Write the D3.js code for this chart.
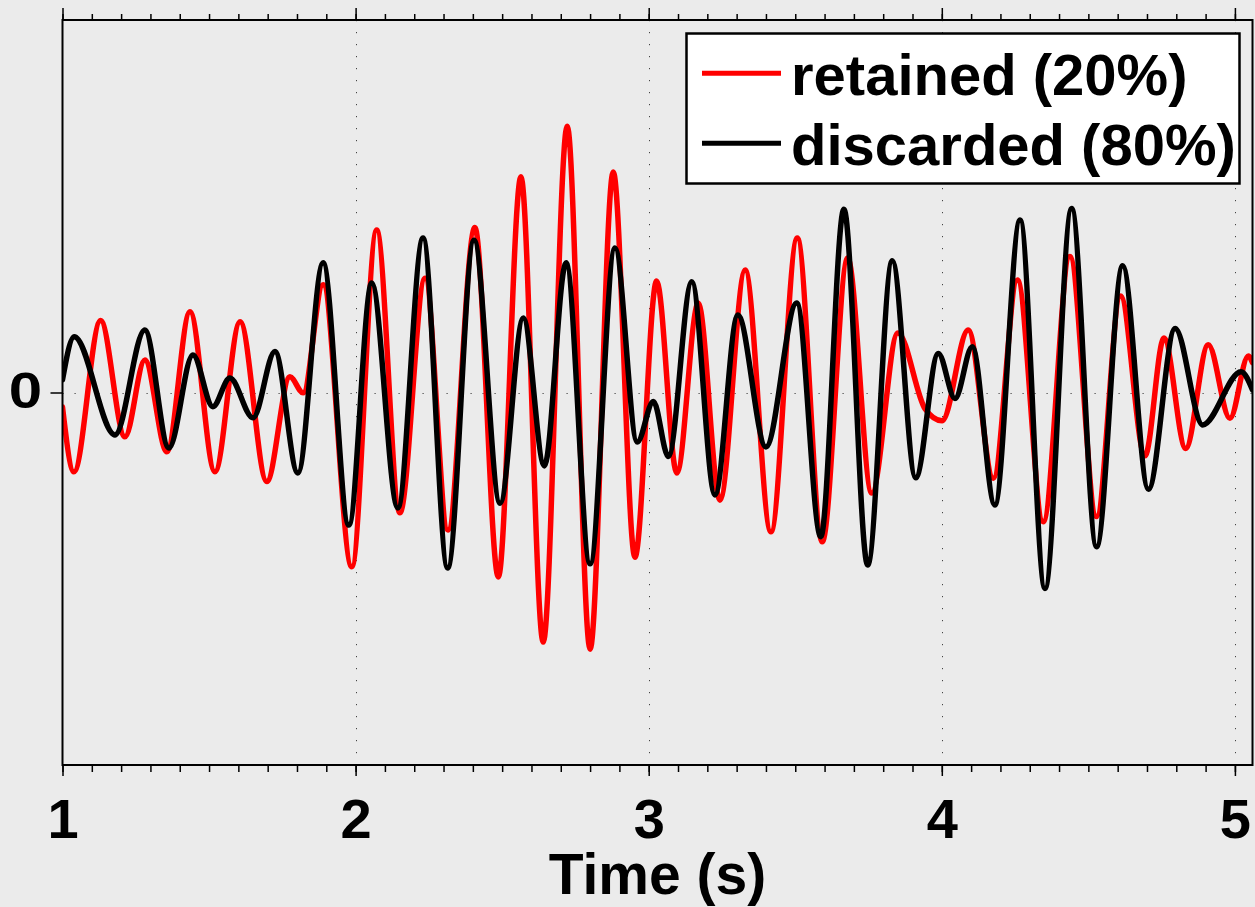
<!DOCTYPE html>
<html>
<head>
<meta charset="utf-8">
<script src="https://cdn.jsdelivr.net/npm/d3@7/dist/d3.min.js"></script>
<style>
  html, body { margin: 0; padding: 0; background: #ebebeb; }
  svg { display: block; }
  text { font-family: "Liberation Sans", Arial, Helvetica, sans-serif; font-weight: bold; fill: #000; }
</style>
</head>
<body>
<svg id="chart" width="1255" height="907"></svg>
<script>
// ---- data ----
const xDomain = [1, 5.06];
const yDomain = [-1, 1];
const xTickValues = [1, 2, 3, 4, 5];
const xTickLabels = ["1", "2", "3", "4", "5"];
const yTickValues = [0];
const yTickLabels = ["0"];
const seriesNames = ["retained (20%)", "discarded (80%)"];
const seriesColors = ["#ff0000", "#000000"];

const redT = [1.000,1.039,1.130,1.213,1.281,1.356,1.435,1.520,1.606,1.697,1.776,1.821,1.889,1.987,2.072,2.151,2.237,2.315,2.407,2.487,2.564,2.640,2.722,2.800,2.879,2.953,3.027,3.096,3.169,3.243,3.329,3.417,3.507,3.592,3.679,3.761,3.850,3.943,4.001,4.090,4.176,4.258,4.346,4.437,4.528,4.610,4.693,4.758,4.832,4.909,4.983,5.046,5.060];
const redV = [-0.039,-0.213,0.193,-0.119,0.087,-0.159,0.217,-0.213,0.190,-0.239,0.042,-0.001,0.289,-0.468,0.436,-0.323,0.307,-0.369,0.443,-0.495,0.579,-0.670,0.715,-0.689,0.592,-0.442,0.299,-0.216,0.240,-0.289,0.329,-0.374,0.415,-0.401,0.361,-0.270,0.160,-0.044,-0.076,0.168,-0.230,0.302,-0.347,0.365,-0.333,0.259,-0.170,0.146,-0.150,0.128,-0.069,0.098,0.080];

const blackT = [1.000,1.040,1.179,1.281,1.363,1.445,1.513,1.571,1.650,1.725,1.803,1.889,1.977,2.055,2.144,2.230,2.314,2.404,2.493,2.572,2.644,2.718,2.800,2.885,2.961,3.016,3.067,3.147,3.226,3.304,3.400,3.505,3.587,3.666,3.747,3.831,3.911,3.988,4.045,4.104,4.181,4.267,4.352,4.443,4.528,4.617,4.705,4.796,4.890,5.021,5.060];
const blackV = [0.034,0.150,-0.114,0.168,-0.149,0.101,-0.038,0.039,-0.068,0.110,-0.216,0.348,-0.356,0.294,-0.310,0.415,-0.471,0.409,-0.297,0.200,-0.197,0.348,-0.460,0.388,-0.133,-0.024,-0.172,0.297,-0.275,0.208,-0.146,0.240,-0.387,0.492,-0.463,0.354,-0.229,0.105,-0.016,0.123,-0.302,0.463,-0.526,0.494,-0.414,0.340,-0.260,0.172,-0.087,0.056,0.007];

// ---- layout ----
const L = 62.5, R = 1252.5, T = 20, B = 765;
const svg = d3.select("#chart");
svg.append("rect").attr("width", 1255).attr("height", 907).attr("fill", "#ebebeb");

const x = d3.scaleLinear().domain(xDomain).range([L, R]);
const y = d3.scaleLinear().domain(yDomain).range([B, T]);

// grid (dotted)
const grid = svg.append("g").attr("stroke", "#444").attr("stroke-width", 1).attr("stroke-dasharray", "1.2,10.8");
grid.selectAll("line.v").data(xTickValues.filter(d => d > xDomain[0])).join("line")
  .attr("x1", d => Math.round(x(d)) + 0.5).attr("x2", d => Math.round(x(d)) + 0.5)
  .attr("y1", T).attr("y2", B);
grid.selectAll("line.h").data(yTickValues).join("line")
  .attr("x1", L).attr("x2", R)
  .attr("y1", d => Math.round(y(d)) + 0.5).attr("y2", d => Math.round(y(d)) + 0.5);

// clip
svg.append("clipPath").attr("id", "clip").append("rect")
  .attr("x", L).attr("y", T).attr("width", R - L).attr("height", B - T);

const line = d3.line().x(d => x(d[0])).y(d => y(d[1])).curve(d3.curveMonotoneX);
const series = [d3.zip(redT, redV), d3.zip(blackT, blackV)];
const plot = svg.append("g").attr("clip-path", "url(#clip)");
series.forEach((s, i) => {
  plot.append("path").datum(s)
    .attr("fill", "none").attr("stroke", seriesColors[i]).attr("stroke-width", 5.5)
    .attr("stroke-linejoin", "round").attr("stroke-linecap", "round")
    .attr("d", line);
});

// axes
const minorTicks = d3.range(10, 51).map(d => d / 10);
function styleAxis(g) {
  g.select(".domain").remove();
  g.selectAll(".tick line").attr("stroke", "#000").attr("stroke-width", 1.5);
}
svg.append("g").attr("transform", `translate(0,${B})`)
  .call(d3.axisBottom(x).tickValues(minorTicks).tickSize(7).tickFormat(""))
  .call(styleAxis);
svg.append("g").attr("transform", `translate(0,${B})`)
  .call(d3.axisBottom(x).tickValues(xTickValues).tickSize(11).tickPadding(22)
    .tickFormat((d, i) => xTickLabels[i]))
  .call(styleAxis)
  .call(g => g.selectAll("text").attr("font-size", 56).attr("font-family", null).attr("fill", "#000"));
svg.append("g").attr("transform", `translate(0,${T})`)
  .call(d3.axisTop(x).tickValues(minorTicks).tickSize(6).tickFormat(""))
  .call(styleAxis);
svg.append("g").attr("transform", `translate(0,${T})`)
  .call(d3.axisTop(x).tickValues(xTickValues).tickSize(12).tickFormat(""))
  .call(styleAxis);
svg.append("g").attr("transform", `translate(${L},0)`)
  .call(d3.axisLeft(y).tickValues(yTickValues).tickSize(12).tickFormat(""))
  .call(styleAxis);
// y tick labels
svg.selectAll("text.ylab").data(yTickValues).join("text")
  .attr("class", "ylab")
  .attr("text-anchor", "end").attr("font-size", 50)
  .attr("transform", d => `translate(42,${y(d) + 15.5}) scale(1.2,1)`)
  .text((d, i) => yTickLabels[i]);

// frame
svg.append("rect").attr("x", L).attr("y", T).attr("width", R - L).attr("height", B - T)
  .attr("fill", "none").attr("stroke", "#000").attr("stroke-width", 2);

// x label
svg.append("text").attr("x", (L + R) / 2).attr("y", 894).attr("text-anchor", "middle")
  .attr("font-size", 57).text("Time (s)");

// legend
const lg = svg.append("g");
lg.append("rect").attr("x", 686.5).attr("y", 33.5).attr("width", 553).attr("height", 150)
  .attr("fill", "#fff").attr("stroke", "#000").attr("stroke-width", 2.5);
seriesNames.forEach((name, i) => {
  const yy = 73.3 + i * 70;
  lg.append("line").attr("x1", 702).attr("x2", 781).attr("y1", yy).attr("y2", yy)
    .attr("stroke", seriesColors[i]).attr("stroke-width", 5);
  lg.append("text").attr("x", 791).attr("y", yy + 21.5).attr("font-size", 58).text(name);
});
</script>
</body>
</html>
